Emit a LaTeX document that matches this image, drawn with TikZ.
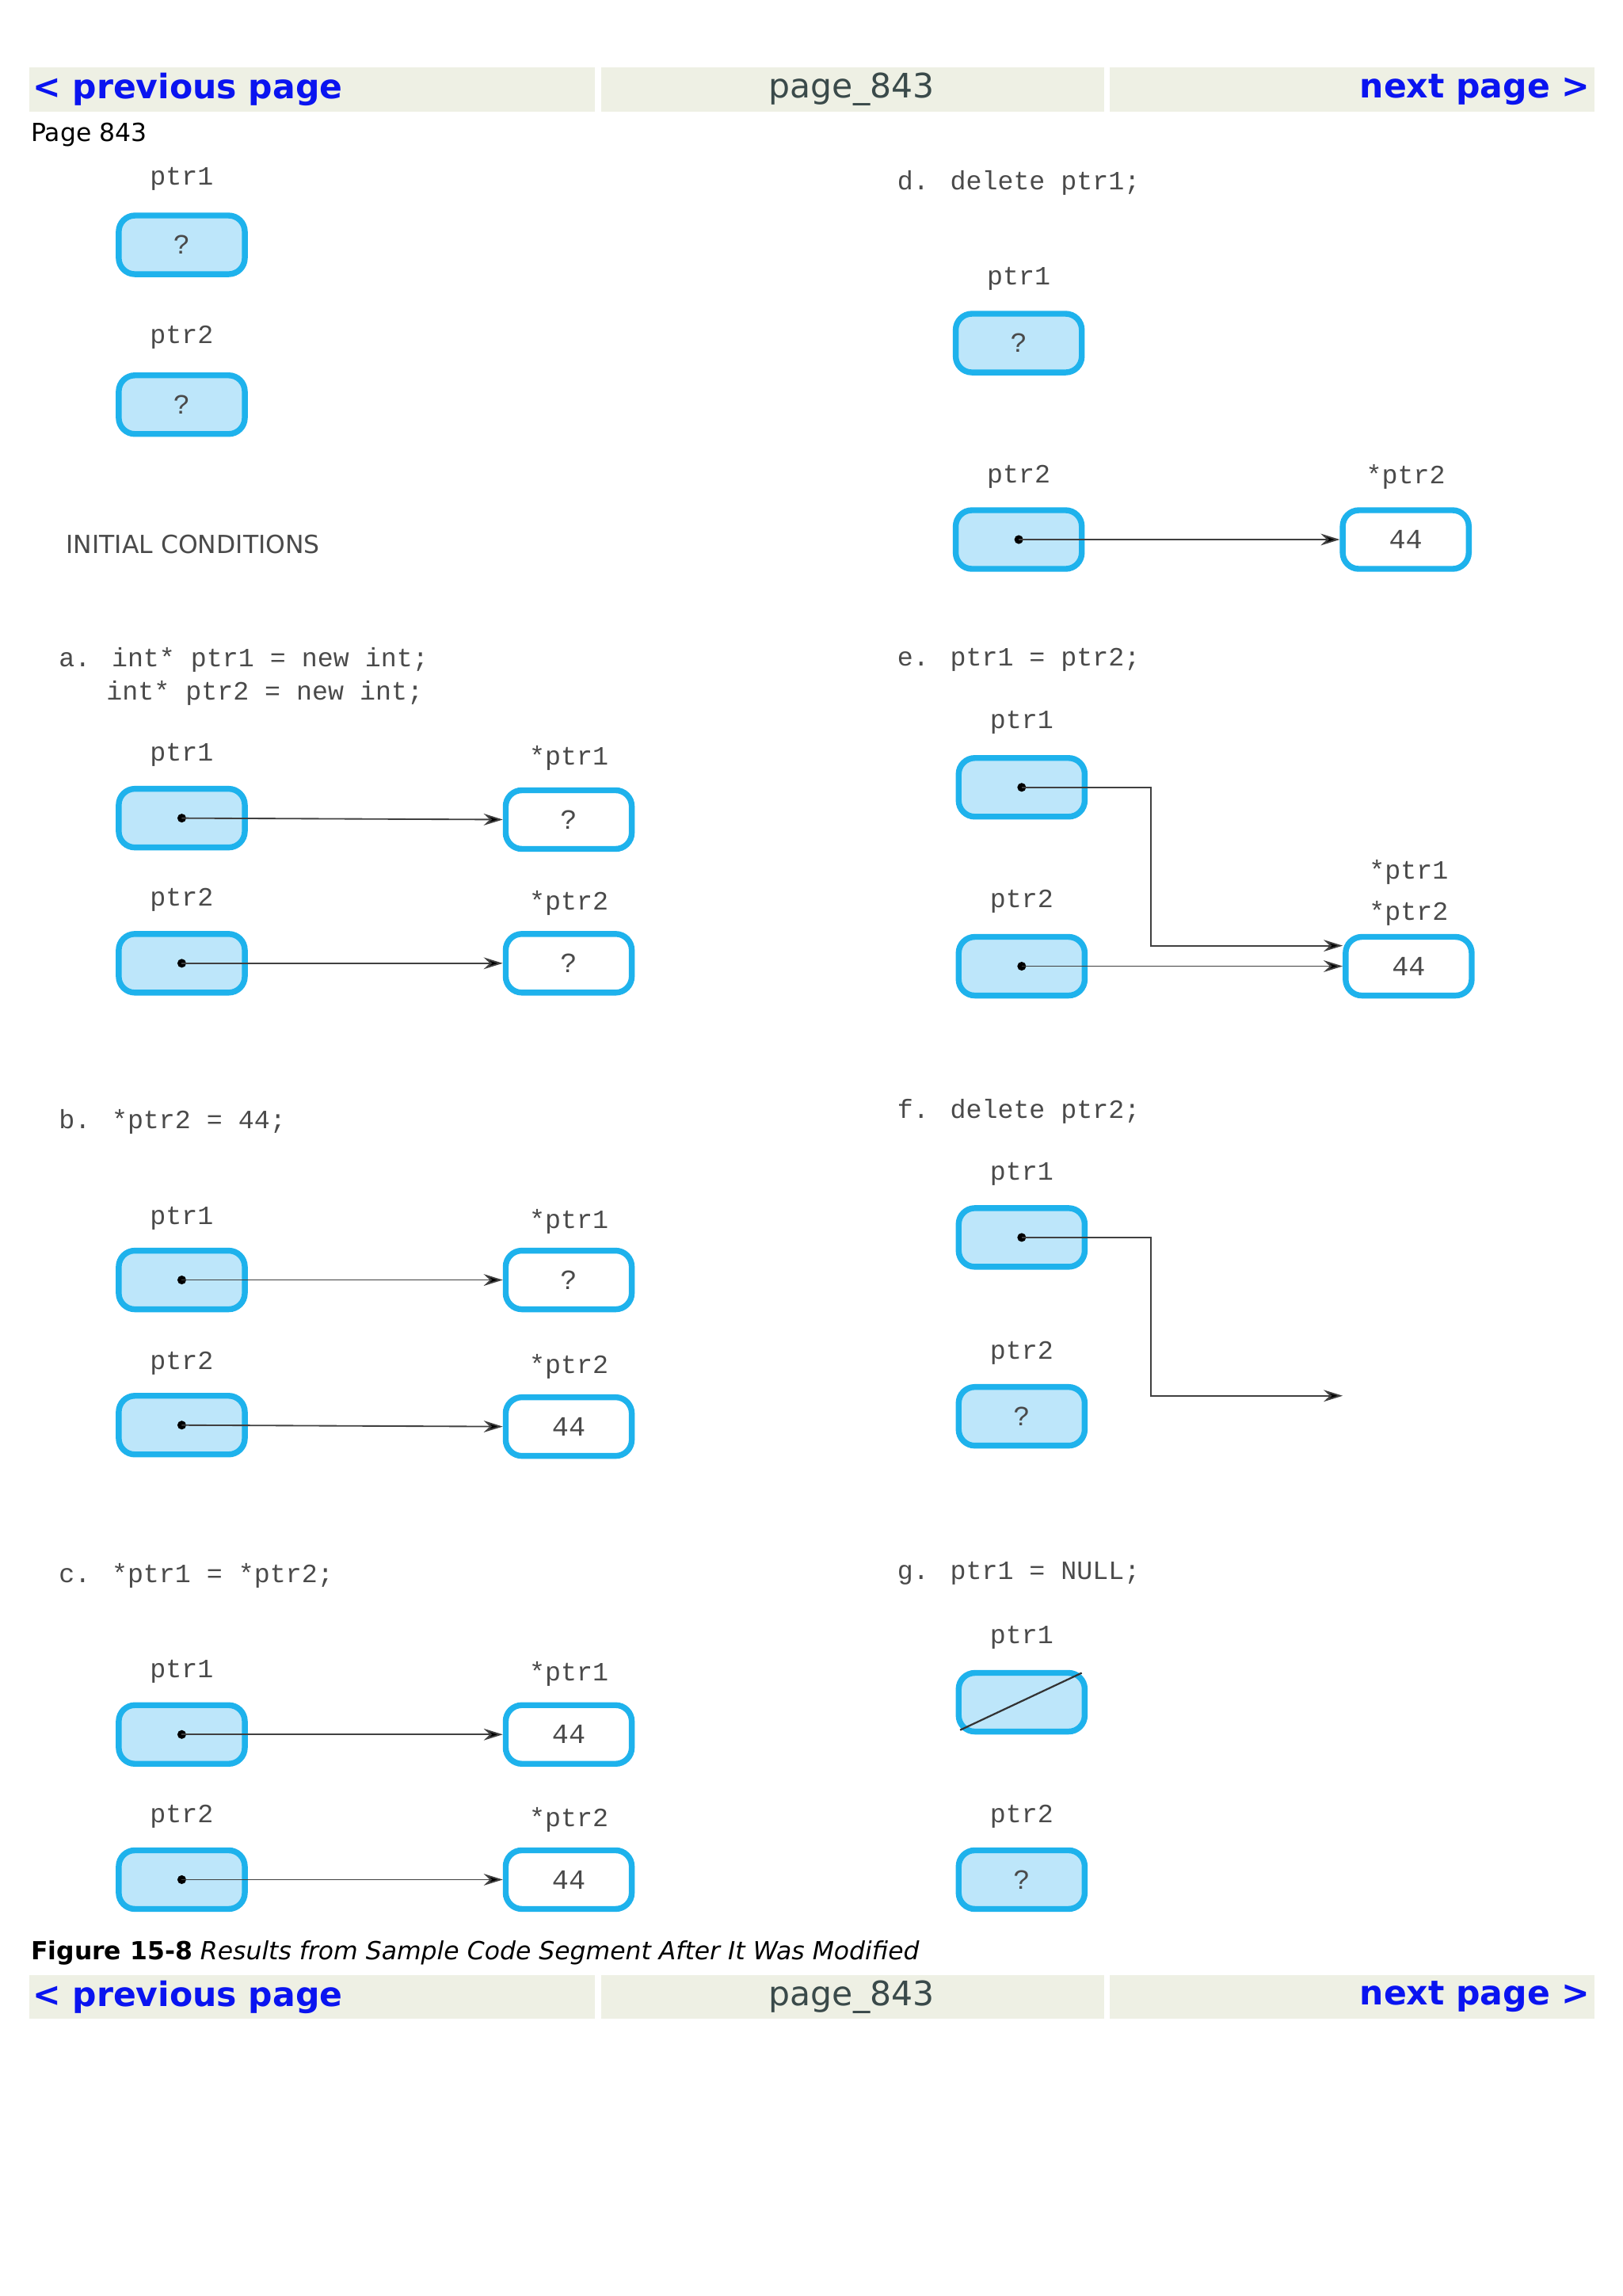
\documentclass[tikz,border=0pt]{standalone}
\usepackage{fontspec}
\setmainfont{DejaVu Sans}
\newfontfamily\codef{Liberation Mono}
\usetikzlibrary{arrows.meta}
\definecolor{bord}{HTML}{1EB2EC}
\definecolor{fillb}{HTML}{BDE6FA}
\definecolor{navbg}{HTML}{EEF0E4}
\definecolor{navblue}{HTML}{0A14F0}
\definecolor{navgray}{HTML}{3A4A4A}
\definecolor{codec}{HTML}{4A4A4A}
\tikzset{
 pbox/.style={draw=bord,line width=4pt,fill=fillb,rounded corners=11pt,minimum width=86pt,minimum height=40pt,inner sep=0pt,font=\codef\fontsize{19}{19}\selectfont,text=codec},
 tbox/.style={pbox,fill=white},
 lbl/.style={font=\codef\fontsize{18}{18}\selectfont,text=codec,inner sep=0pt},
 code/.style={lbl,anchor=west},
 dot/.style={circle,fill=black,inner sep=0pt,minimum size=6pt},
 arr/.style={draw=black!75,line width=1pt,-{Stealth[length=13pt,width=8pt,fill=black]}},
 nav/.style={font=\bfseries\fontsize{23}{23}\selectfont,text=navblue,inner sep=0pt},
}
\begin{document}
\begin{tikzpicture}[x=1pt,y=-1pt]
\useasboundingbox (0,0) rectangle (1107,1566);
\fill[white] (0,0) rectangle (1107,1566);
% nav bars
\foreach \y/\n in {46/t,1347/b}{
 \fill[navbg] (20,\y) rectangle (406,\y+30);
 \fill[navbg] (410,\y) rectangle (753,\y+30);
 \fill[navbg] (757,\y) rectangle (1088,\y+30);
 \node[nav,anchor=west] (prev\n) at (22,\y+15) {< previous page};
 \node[nav,text=navgray,font=\fontsize{23}{23}\selectfont] (pg\n) at (581,\y+15) {page\_843};
 \node[nav,anchor=east] (next\n) at (1085,\y+15) {next page >};
}
\node[anchor=west,inner sep=0pt,font=\fontsize{17}{17}\selectfont] (pagelbl) at (21,92) {Page 843};
% initial
\node[lbl] (i1l) at (124,122) {ptr1};
\node[pbox] (i1) at (124,167) {?};
\node[lbl] (i2l) at (124,230) {ptr2};
\node[pbox] (i2) at (124,276) {?};
\node[anchor=west,inner sep=0pt,text=codec,font=\fontsize{17}{17}\selectfont] (init) at (45,371) {INITIAL CONDITIONS};
% a
\node[code] (ac1) at (40,450) {a. int* ptr1 = new int;};
\node[code] (ac2) at (40,473) {\phantom{a.} int* ptr2 = new int;};
\node[lbl] (a1l) at (124,515) {ptr1};
\node[pbox] (a1) at (124,558) {};
\node[lbl] (at1l) at (388,517) {*ptr1};
\node[tbox] (at1) at (388,559) {?};
\node[lbl] (a2l) at (124,614) {ptr2};
\node[pbox] (a2) at (124,657) {};
\node[lbl] (at2l) at (388,616) {*ptr2};
\node[tbox] (at2) at (388,657) {?};
% b
\node[code] (bc) at (40,765) {b. *ptr2 = 44;};
\node[lbl] (b1l) at (124,831) {ptr1};
\node[pbox] (b1) at (124,873) {};
\node[lbl] (bt1l) at (388,833) {*ptr1};
\node[tbox] (bt1) at (388,873) {?};
\node[lbl] (b2l) at (124,930) {ptr2};
\node[pbox] (b2) at (124,972) {};
\node[lbl] (bt2l) at (388,932) {*ptr2};
\node[tbox] (bt2) at (388,973) {44};
% c
\node[code] (cc) at (40,1075) {c. *ptr1 = *ptr2;};
\node[lbl] (c1l) at (124,1140) {ptr1};
\node[pbox] (c1) at (124,1183) {};
\node[lbl] (ct1l) at (388,1142) {*ptr1};
\node[tbox] (ct1) at (388,1183) {44};
\node[lbl] (c2l) at (124,1239) {ptr2};
\node[pbox] (c2) at (124,1282) {};
\node[lbl] (ct2l) at (388,1241) {*ptr2};
\node[tbox] (ct2) at (388,1282) {44};
\foreach \p/\t in {a1/at1,a2/at2,b1/bt1,b2/bt2,c1/ct1,c2/ct2}{
 \node[dot] (\p d) at (\p.center) {};
 \draw[arr] (\p d.center) -- (\t.west);
}
% d
\node[code] (dc) at (612,125) {d. delete ptr1;};
\node[lbl] (d1l) at (695,190) {ptr1};
\node[pbox] (d1) at (695,234) {?};
\node[lbl] (d2l) at (695,325) {ptr2};
\node[pbox] (d2) at (695,368) {};
\node[lbl] (dt2l) at (959,325) {*ptr2};
\node[tbox] (dt2) at (959,368) {44};
\node[dot] (d2d) at (d2.center) {};
\draw[arr] (d2d.center) -- (dt2.west);
% e
\node[code] (ec) at (612,450) {e. ptr1 = ptr2;};
\node[lbl] (e1l) at (697,493) {ptr1};
\node[pbox] (e1) at (697,537) {};
\node[lbl] (e2l) at (697,615) {ptr2};
\node[pbox] (e2) at (697,659) {};
\node[lbl] (et1l) at (961,595) {*ptr1};
\node[lbl] (et2l) at (961,623) {*ptr2};
\node[tbox] (et) at (961,659) {44};
\node[dot] (e1d) at (e1.center) {};
\node[dot] (e2d) at (e2.center) {};
\coordinate (ek) at (785,537);
\coordinate (ekk) at (785,645);
\draw[arr] (e1d.center) -- (ek) -- (ekk) -- (ekk -| et.west);
\draw[arr] (e2d.center) -- (e2d.center -| et.west);
% f
\node[code] (fc) at (612,758) {f. delete ptr2;};
\node[lbl] (f1l) at (697,801) {ptr1};
\node[pbox] (f1) at (697,844) {};
\node[lbl] (f2l) at (697,923) {ptr2};
\node[pbox] (f2) at (697,966) {?};
\node[dot] (f1d) at (f1.center) {};
\coordinate (fk) at (785,844);
\coordinate (fkk) at (785,952);
\coordinate (fend) at (916,952);
\draw[arr] (f1d.center) -- (fk) -- (fkk) -- (fend);
% g
\node[code] (gc) at (612,1073) {g. ptr1 = NULL;};
\node[lbl] (g1l) at (697,1117) {ptr1};
\node[pbox] (g1) at (697,1161) {};
\draw[black!80,line width=1.2pt] ([xshift=-4pt,yshift=-2pt]g1.north east) -- ([xshift=3pt,yshift=3pt]g1.south west);
\node[lbl] (g2l) at (697,1239) {ptr2};
\node[pbox] (g2) at (697,1282) {?};
% caption
\node[anchor=west,inner sep=0pt,font=\fontsize{17}{17}\selectfont] (cap) at (21,1332) {\textbf{Figure 15-8} \textit{Results from Sample Code Segment After It Was Modified}};
\end{tikzpicture}
\end{document}
